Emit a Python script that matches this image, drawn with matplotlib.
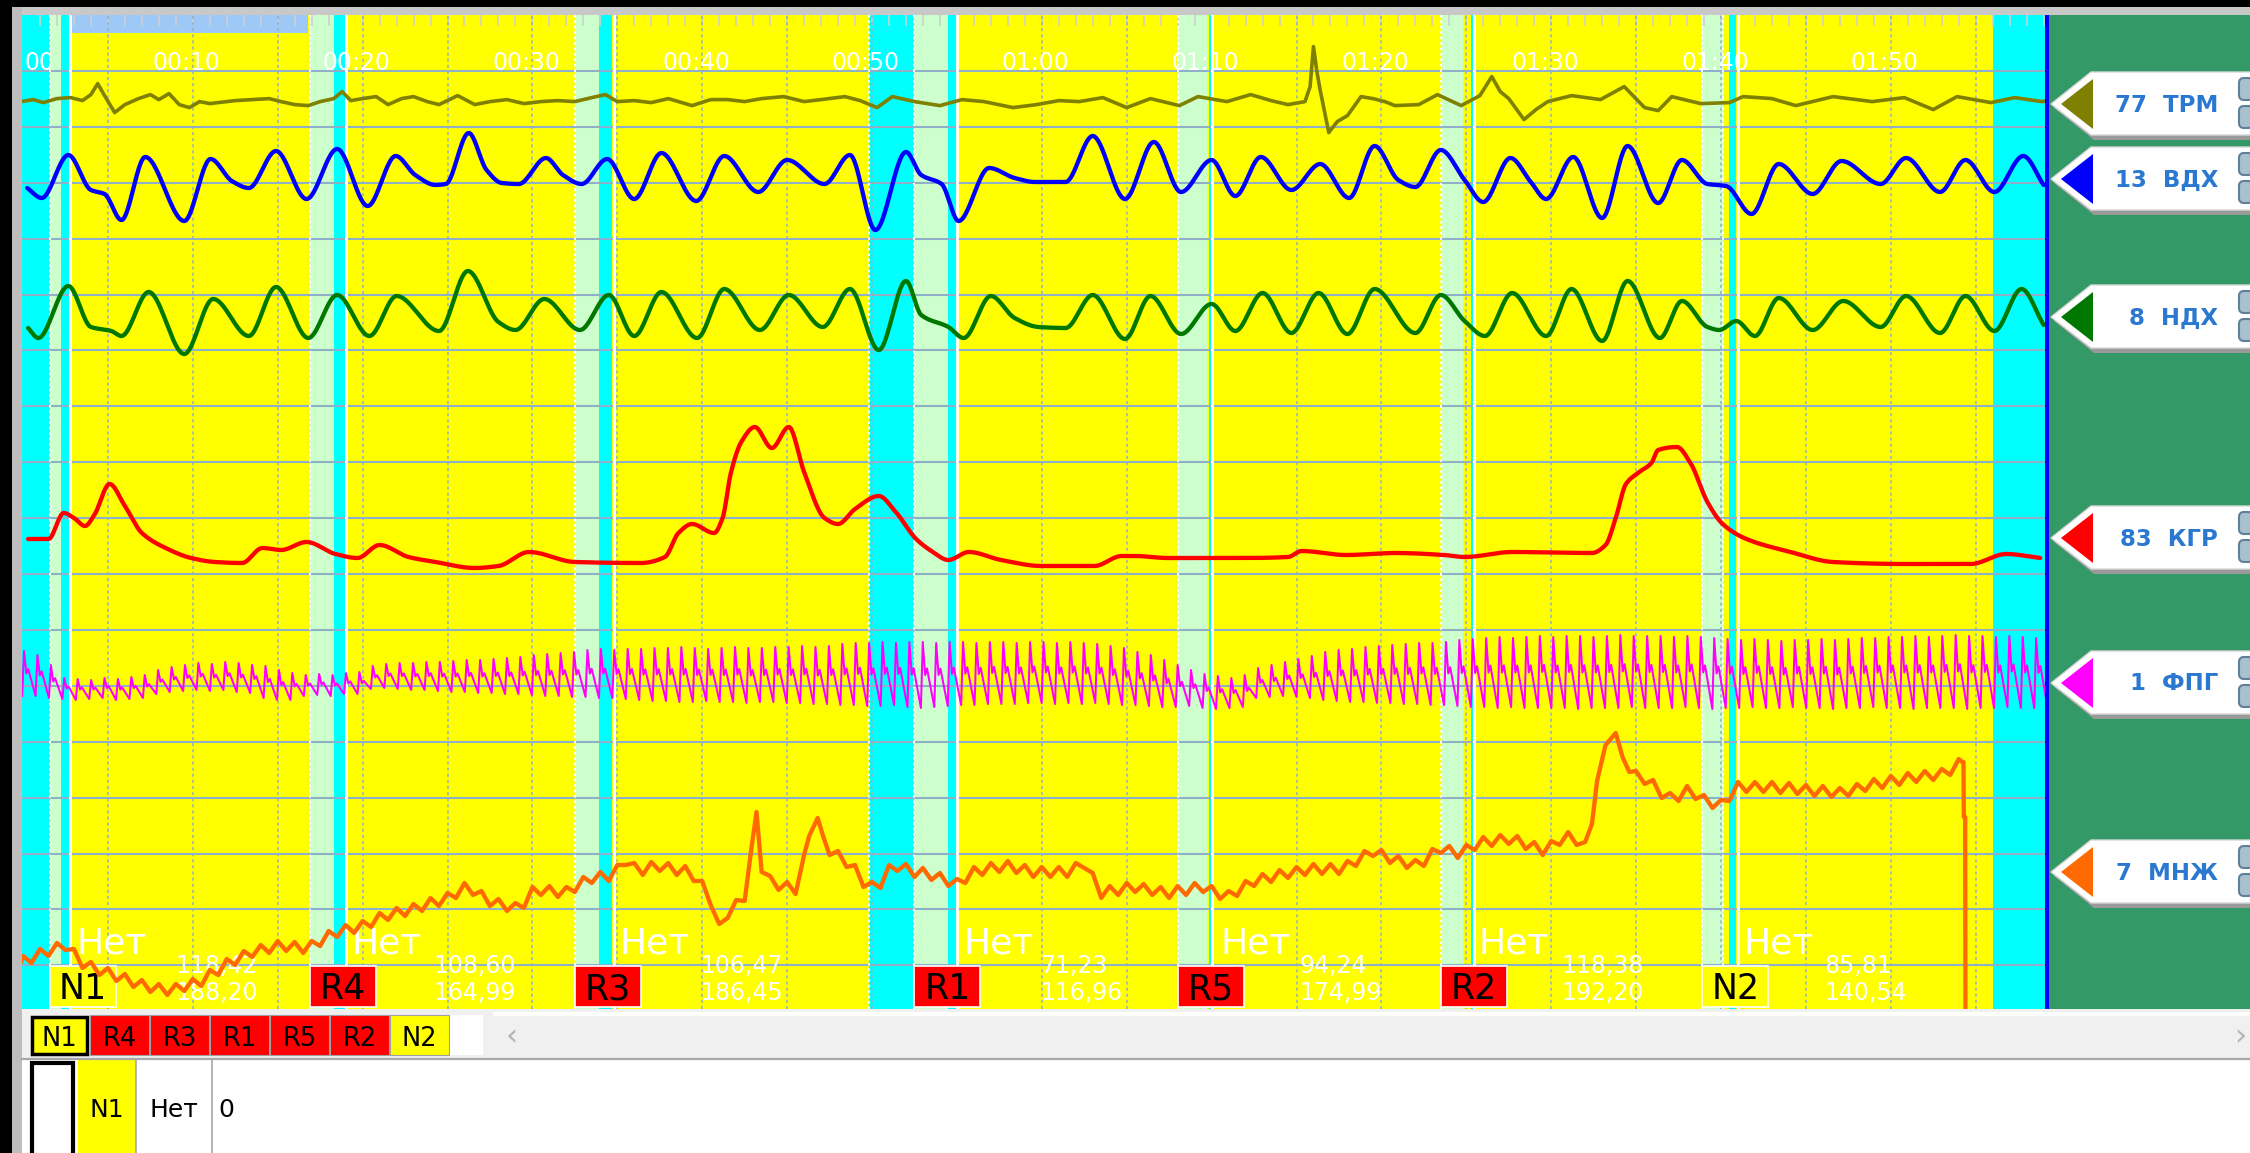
import numpy as np
import matplotlib
matplotlib.use("Agg")
import matplotlib.pyplot as plt
from matplotlib.patches import Rectangle, Polygon, FancyBboxPatch

plt.rcParams['font.family'] = ['DejaVu Sans']

# ======================= DATA =======================
tick_times = [10, 20, 30, 40, 50, 60, 70, 80, 90, 100, 110]
tick_labels = ['00:10', '00:20', '00:30', '00:40', '00:50', '01:00',
               '01:10', '01:20', '01:30', '01:40', '01:50']

q_names = ['N1', 'R4', 'R3', 'R1', 'R5', 'R2', 'N2']
q_onset = [1.57, 16.9, 32.5, 52.5, 68.0, 83.5, 98.9]
q_answer = ['Нет', 'Нет', 'Нет', 'Нет', 'Нет', 'Нет', 'Нет']
q_answer_t = [3.15, 19.36, 35.13, 55.36, 70.55, 85.69, 101.35]
q_val1 = ['118,42', '108,60', '106,47', '71,23', '94,24', '118,38', '85,81']
q_val2 = ['188,20', '164,99', '186,45', '116,96', '174,99', '192,20', '140,54']
q_val_t = [8.95, 24.15, 39.9, 59.9, 75.2, 90.6, 106.1]

question_spans = [(1.57, 2.22), (16.9, 18.3), (32.5, 33.95), (52.5, 54.45),
                  (68.0, 69.8), (83.5, 84.8), (98.9, 100.1)]
answer_spans = [(2.22, 2.72), (18.3, 19.0), (33.95, 34.7), (54.45, 54.95),
                (69.85, 69.95), (85.3, 85.4), (100.45, 100.9)]
answer_end = [2.77, 19.05, 34.8, 55.0, 70.0, 85.45, 101.0]
pause_spans = [(-0.5, 1.57), (49.8, 52.5), (116.0, 120.0)]
select_span = (2.83, 16.8)
end_marker_t = 119.2

ch_names = ['ТРМ', 'ВДХ', 'НДХ', 'КГР', 'ФПГ', 'МНЖ']
ch_nums = ['77', '13', '8', '83', '1', '7']
ch_colors = ['#808000', '#0000ff', '#007800', '#ff0000', '#ff00ff', '#ff6a00']

trm_t = [-0.1, 0.6, 1.2, 2.0, 2.8, 3.5, 4.0, 4.4, 4.8, 5.4,
         6.0, 6.8, 7.5, 8.0, 8.6, 9.2, 9.8, 10.4, 11.0, 11.5,
         12.5, 13.5, 14.5, 15.2, 16.0, 16.8, 17.5, 18.3, 18.8, 19.3,
         20.0, 20.8, 21.5, 22.3, 23.0, 23.8, 24.5, 25.6, 26.6, 27.5,
         28.5, 29.5, 30.5, 31.5, 32.5, 33.5, 34.3, 35.0, 36.0, 37.0,
         38.0, 39.4, 40.5, 41.5, 42.5, 43.5, 44.8, 46.0, 47.0, 48.4,
         49.3, 50.3, 51.2, 52.5, 54.0, 55.3, 56.6, 58.3, 59.7, 61.0,
         62.2, 63.6, 65.0, 66.4, 68.1, 69.2, 70.9, 72.3, 73.5, 74.5,
         75.5, 75.8, 76.0, 76.2, 76.4, 76.9, 77.4, 78.0, 78.8, 79.5,
         80.2, 80.8, 82.2, 83.3, 84.7, 85.8, 86.5, 87.0, 87.5, 88.4,
         89.1, 89.8, 91.2, 92.9, 94.3, 95.5, 96.3, 97.1, 98.8, 100.5,
         101.3, 103.0, 104.4, 106.6, 108.9, 110.8, 112.5, 113.9, 115.9, 117.3,
         118.9, 119.3]
trm_v = [0, 2, -1, 3, 4, 1, 7, 18, 6, -11,
         -3, 3, 7, 2, 8, -3, -6, 0, -2, -1,
         1, 2, 3, 0, -3, -4, 0, 3, 10, 1,
         3, 5, -3, 3, 5, 0, -3, 6, -3, 0,
         2, -2, 0, 1, 0, 4, 7, 0, 1, -1,
         3, -4, 2, 2, 0, 3, 5, 0, 2, 5,
         1, -6, 5, 0, -4, 2, 0, -6, -3, 1,
         0, 4, -6, 3, -4, 5, 0, 7, 1, -3,
         0, 15, 55, 30, 11, -31, -20, -14, 5, 3,
         0, -4, -3, 7, -4, 6, 25, 10, 3, -18,
         -8, 0, 6, 2, 15, -6, -9, 5, -2, -1,
         5, 3, -4, 5, 0, 4, -8, 5, -1, 4,
         0, 1]

vdh_t = [0.25, 1.1, 2.67, 4.0, 4.8, 5.8, 7.2, 9.5, 11.05, 12.3,
         13.3, 14.9, 16.7, 18.5, 20.3, 21.95, 23.1, 24.3, 24.9, 26.25,
         27.3, 28.2, 29.2, 30.8, 31.8, 32.9, 34.4, 36.0, 37.6, 39.65,
         41.3, 43.3, 45.0, 47.2, 48.7, 50.2, 52.0, 52.9, 54.1, 55.1,
         56.9, 58.4, 59.6, 61.4, 63.0, 64.9, 66.6, 68.2, 70.0, 71.4,
         72.9, 74.7, 76.4, 78.1, 79.6, 81.0, 82.0, 83.5, 84.9, 86.0,
         87.6, 88.8, 89.7, 91.3, 93.0, 94.5, 96.3, 97.7, 99.2, 100.3,
         101.8, 103.4, 105.4, 107.1, 109.4, 110.9, 112.9, 114.4, 116.1, 117.8,
         119.0]
vdh_v = [-8, -18, 25, -10, -14, -40, 23, -41, 21, -1,
         -8, 29, -19, 31, -26, 24, 5, -5, -4, 47,
         10, -3, -4, 22, 5, -4, 21, -19, 27, -21,
         24, -12, 20, -4, 25, -50, 28, 5, -4, -41,
         12, 2, -2, -2, 44, -19, 38, -12, 20, -16,
         23, -10, 16, -18, 34, 0, -7, 30, 0, -22,
         22, -2, -19, 23, -38, 34, -23, 20, -4, -6,
         -34, 16, -14, 19, -4, 22, -12, 20, -12, 24,
         -5]

ndh_t = [0.3, 0.9, 2.67, 4.0, 5.2, 5.8, 7.4, 9.5, 11.2, 13.3,
         14.9, 16.8, 18.5, 20.4, 22.0, 24.5, 26.2, 28.0, 29.0, 30.7,
         32.8, 34.5, 36.0, 37.6, 39.7, 41.3, 43.4, 45.1, 47.1, 48.7,
         50.4, 52.0, 52.9, 54.5, 55.4, 57.0, 58.4, 59.8, 61.4, 63.0,
         64.9, 66.4, 68.2, 70.0, 71.4, 73.0, 74.7, 76.3, 78.0, 79.6,
         82.0, 83.5, 84.9, 86.1, 87.7, 89.7, 91.2, 93.0, 94.5, 96.4,
         97.7, 99.2, 99.9, 100.9, 102.0, 103.4, 105.4, 107.2, 109.4, 110.9,
         112.9, 114.4, 116.1, 117.7, 119.0]
ndh_v = [-8, -18, 34, -7, -11, -16, 28, -34, 21, -16,
         33, -18, 25, -16, 24, -11, 49, -2, -10, 21,
         -10, 25, -16, 28, -18, 31, -10, 25, -7, 31,
         -30, 39, 5, -7, -18, 24, 2, -7, -8, 25,
         -19, 24, -14, 16, -11, 27, -13, 27, -14, 31,
         -13, 25, -1, -16, 27, -16, 31, -21, 39, -18,
         19, -7, -10, -1, -16, 22, -10, 19, -7, 24,
         -13, 24, -11, 31, -5]

kgr_t = [0.3, 1.5, 2.4, 3.0, 3.65, 4.2, 5.1, 6.0, 7.0, 8.4,
         9.9, 11.3, 12.9, 14.1, 15.2, 16.7, 18.4, 19.7, 21.0, 22.7,
         24.3, 26.6, 28.0, 29.8, 32.5, 36.4, 37.8, 38.6, 39.4, 40.7,
         41.2, 41.7, 42.3, 43.1, 44.1, 45.1, 46.0, 47.2, 48.0, 49.0,
         50.4, 51.4, 52.6, 53.5, 54.5, 55.7, 57.6, 60.0, 63.1, 64.7,
         65.5, 67.4, 72.0, 74.5, 75.3, 77.9, 80.8, 83.7, 84.9, 87.7,
         92.4, 93.2, 93.8, 94.4, 95.1, 95.9, 96.3, 97.4, 98.2, 99.2,
         100.1, 101.5, 104.1, 106.6, 110.9, 114.7, 116.8, 118.8]
kgr_v = [1, 1, 27, 22, 14, 25, 56, 34, 7, -8,
         -18, -22, -23, -8, -10, -2, -14, -18, -5, -17,
         -22, -28, -26, -12, -22, -23, -17, 7, 16, 7,
         22, 68, 98, 113, 92, 113, 68, 22, 16, 31,
         44, 28, 1, -11, -20, -12, -20, -26, -26, -16,
         -16, -18, -18, -17, -11, -15, -13, -15, -17, -12,
         -13, -5, 22, 56, 67, 77, 90, 93, 77, 38,
         16, 1, -12, -22, -24, -24, -14, -18]

ppg_first_beat = -0.05
ppg_beat_period = 0.79
ppg_peak = [29, 25, 15,
            2, 1, 0, 2, 1, 3, 5,
            10, 13, 15, 17, 16, 18, 17, 15,
            14, 10, 7,
            5, 6, 5, 7, 8,
            14, 16, 17, 17, 18,
            18, 19, 20, 20, 21, 22, 23,
            25, 26, 27, 28, 30, 31, 30, 31,
            31, 32, 32, 33, 32, 31, 32, 33, 32, 32, 33, 33, 34, 33, 34,
            36, 37, 37, 38, 37, 38, 38, 37, 38, 38, 37, 38, 38,
            37, 38, 38, 37, 38, 37, 36,
            34, 32, 28, 25, 20, 15,
            10, 6, 4, 2, 5,
            12, 15, 18, 21, 24,
            28, 30, 31, 33, 34, 35, 36, 37, 37, 38,
            40, 41, 42, 43, 42, 43, 44, 43, 44, 44, 43, 44, 45, 44, 44,
            44, 43, 44, 43, 42, 41, 40, 41, 40, 39, 40, 40, 41, 40, 41,
            42, 42, 43, 43, 44, 43, 44, 45, 44, 44, 43, 44, 43, 42, 42]
ppg_trough = [-16, -16, -18,
              -19, -20, -19, -18, -20, -19, -18,
              -14, -12, -11, -10, -11, -10, -12, -13,
              -18, -20, -20,
              -16, -15, -16, -14, -14,
              -9, -8, -9, -10, -10,
              -11, -12, -12, -13, -13, -14, -14,
              -15, -16, -16, -17, -17, -18, -18, -19,
              -20, -21, -21, -22, -22, -21, -22, -22, -23, -22, -22, -23, -23, -24, -24,
              -25, -25, -26, -26, -25, -27, -28, -27, -26, -25, -25, -24, -24,
              -24, -23, -23, -24, -23, -24, -23,
              -24, -25, -25, -26, -27, -27,
              -26, -28, -29, -28, -27,
              -18, -17, -16, -17, -18,
              -20, -21, -22, -22, -23, -23, -24, -24, -25, -25,
              -26, -27, -27, -28, -27, -28, -28, -28, -28, -29, -28, -28, -28, -27, -28,
              -28, -28, -27, -28, -29, -28, -28, -27, -28, -28, -27, -28, -28, -29, -28,
              -28, -27, -28, -28, -29, -28, -28, -28, -29, -28, -28, -27, -28, -28, -28]

mnz = [(-0.1, -61),
       (0.0, -56), (0.5, -63), (1.0, -49), (1.5, -56), (2.0, -43), (2.5, -50), (3.0, -49), (3.5, -68),
       (4.0, -62), (4.5, -75), (5.0, -68), (5.5, -81), (6.0, -74), (6.5, -87), (7.0, -80), (7.5, -92),
       (8.0, -84), (8.5, -95), (9.0, -84), (9.5, -91),
       (10.0, -79), (10.5, -86), (11.0, -70), (11.5, -75), (12.0, -59), (12.5, -65), (13.0, -51),
       (13.5, -57), (14.0, -45), (14.5, -53), (15.0, -41), (15.5, -51), (16.0, -42), (16.5, -53),
       (17.0, -41), (17.5, -46), (18.0, -31), (18.5, -37), (19.0, -25), (19.5, -33),
       (20.0, -21), (20.5, -27), (21.0, -13), (21.5, -20), (22.0, -8), (22.5, -16), (23.0, -4),
       (23.5, -11), (24.0, 2), (24.5, -6), (25.0, 7), (25.5, 2), (26.0, 17), (26.5, 5), (27.0, 9),
       (27.5, -6), (28.0, 1), (28.5, -11), (29.0, -3), (29.5, -8),
       (30.0, 13), (30.5, 5), (31.0, 14), (31.5, 3), (32.0, 13), (32.5, 8), (33.0, 23), (33.5, 17),
       (34.0, 28), (34.5, 19), (35.0, 35), (35.5, 35), (36.0, 37), (36.5, 25), (37.0, 38), (37.5, 29),
       (38.0, 37), (38.5, 25), (39.0, 34), (39.5, 19),
       (40.0, 19), (40.5, -5), (41.0, -24), (41.5, -18), (42.0, 0), (42.5, -1), (42.9, 52), (43.2, 88),
       (43.5, 28), (44.0, 24), (44.5, 10), (45.0, 18), (45.5, 6), (46.0, 45), (46.3, 64), (46.8, 82),
       (47.1, 65), (47.5, 45), (48.0, 49), (48.5, 33), (49.0, 35), (49.5, 13),
       (50.0, 18), (50.5, 12), (51.0, 35), (51.5, 29), (52.0, 36), (52.5, 23), (53.0, 32), (53.5, 20),
       (54.0, 27), (54.5, 14), (55.0, 21), (55.5, 17), (56.0, 33), (56.5, 25), (57.0, 37), (57.5, 28),
       (58.0, 39), (58.5, 27), (59.0, 35), (59.5, 23),
       (60.0, 33), (60.5, 23), (61.0, 33), (61.5, 23), (62.0, 37), (62.5, 32), (63.0, 27), (63.5, 2),
       (64.0, 14), (64.5, 5), (65.0, 17), (65.5, 8), (66.0, 16), (66.5, 5), (67.0, 13), (67.5, 2),
       (68.0, 14), (68.5, 5), (69.0, 17), (69.5, 8),
       (70.0, 14), (70.5, 1), (71.0, 9), (71.5, 4), (72.0, 19), (72.5, 14), (73.0, 26), (73.5, 18),
       (74.0, 30), (74.5, 22), (75.0, 33), (75.5, 25), (76.0, 36), (76.5, 26), (77.0, 36), (77.5, 26),
       (78.0, 39), (78.5, 34), (79.0, 49), (79.5, 44),
       (80.0, 50), (80.5, 37), (81.0, 44), (81.5, 32), (82.0, 40), (82.5, 34), (83.0, 51), (83.5, 47),
       (84.0, 54), (84.5, 42), (85.0, 55), (85.5, 50), (86.0, 63), (86.5, 54), (87.0, 65), (87.5, 56),
       (88.0, 64), (88.5, 51), (89.0, 58), (89.5, 45),
       (90.0, 59), (90.5, 55), (91.0, 68), (91.5, 55), (92.0, 58), (92.4, 76), (92.7, 119), (93.2, 155),
       (93.8, 167), (94.2, 143), (94.6, 128), (95.0, 129), (95.5, 116), (96.0, 120), (96.5, 102),
       (97.0, 107), (97.5, 99), (98.0, 114), (98.5, 101), (99.0, 105), (99.5, 92),
       (100.0, 100), (100.5, 99), (101.0, 118), (101.5, 108), (102.0, 118), (102.5, 108), (103.0, 118),
       (103.5, 107), (104.0, 117), (104.5, 106), (105.0, 115), (105.5, 104), (106.0, 114), (106.5, 103),
       (107.0, 112), (107.5, 104), (108.0, 116), (108.5, 109), (109.0, 121), (109.5, 112), (110.0, 124),
       (110.5, 115), (111.0, 127), (111.5, 118), (112.0, 129), (112.5, 120), (113.0, 131), (113.5, 125),
       (114.0, 141), (114.2, 138), (114.28, 138), (114.3, 83), (114.38, 83), (114.4, -140)]

tab_names = ['N1', 'R4', 'R3', 'R1', 'R5', 'R2', 'N2']
row_cells = ['N1', 'Нет', '0']

# ======================= LAYOUT =======================
W, H = 2250, 1153
PX_PER_S = 16.98
T0_PX = 23.0
PL, PR, PT, PB = 21.5, 2049.0, 15.0, 1009.0
GRID_STEP = 55.9
BASE = {'trm': 101.6, 'vdh': 180.0, 'ndh': 320.0, 'kgr': 540.0, 'ppg': 680.0, 'mnz': 900.0}
LABEL_Y = [104, 179, 317, 538, 683, 872]


def px2t(x):
    return (x - T0_PX) / PX_PER_S


def pchip(x, y, xn):
    x = np.asarray(x, float)
    y = np.asarray(y, float)
    h = np.diff(x)
    d = np.diff(y) / h
    m = np.zeros_like(y)
    for k in range(1, len(x) - 1):
        if d[k - 1] * d[k] > 0:
            w1 = 2 * h[k] + h[k - 1]
            w2 = h[k] + 2 * h[k - 1]
            m[k] = (w1 + w2) / (w1 / d[k - 1] + w2 / d[k])
    m[0] = d[0]
    m[-1] = d[-1]
    idx = np.clip(np.searchsorted(x, xn) - 1, 0, len(x) - 2)
    hk = h[idx]
    s = (xn - x[idx]) / hk
    h00 = 2 * s ** 3 - 3 * s ** 2 + 1
    h10 = s ** 3 - 2 * s ** 2 + s
    h01 = -2 * s ** 3 + 3 * s ** 2
    h11 = s ** 3 - s ** 2
    return h00 * y[idx] + h10 * hk * m[idx] + h01 * y[idx + 1] + h11 * hk * m[idx + 1]


fig = plt.figure(figsize=(W / 100, H / 100), dpi=100)
fig.patch.set_facecolor('white')

# ---------- chrome (pixel coordinates) ----------
bg = fig.add_axes([0, 0, 1, 1], zorder=0)
bg.set_xlim(0, W)
bg.set_ylim(H, 0)
bg.axis('off')

bg.add_patch(Rectangle((0, 0), W, 7, fc='black', ec='none'))
bg.add_patch(Rectangle((12, 7), W - 12, 8, fc='#c8c8c8', ec='none'))
bg.add_patch(Rectangle((0, 0), 12, H, fc='black', ec='none'))
bg.add_patch(Rectangle((12, 7), 9.5, H, fc='#bdbdbd', ec='none'))
bg.add_patch(Rectangle((PR, PT), W - PR, PB - PT, fc='#339966', ec='none'))

# channel labels on the right panel
for name, num, col, yc in zip(ch_names, ch_nums, ch_colors, LABEL_Y):
    bg.add_patch(Polygon([(2054, yc + 4), (2094, yc - 27), (2252, yc - 27), (2252, yc + 36), (2094, yc + 36)],
                         closed=True, fc='#9a9a9a', ec='none'))
    bg.add_patch(Polygon([(2051, yc), (2091, yc - 32), (2252, yc - 32), (2252, yc + 31), (2091, yc + 31)],
                         closed=True, fc='white', ec='#d8d8d8', lw=1))
    bg.add_patch(Polygon([(2061, yc), (2093, yc - 25), (2093, yc + 25)], closed=True, fc=col, ec='none'))
    bg.text(2218, yc + 1, num + '  ' + name, color='#2a78d0', fontsize=16.5, fontweight='bold',
            ha='right', va='center')
    for by in (yc - 26, yc + 2):
        bg.add_patch(FancyBboxPatch((2239, by), 14, 22, boxstyle='round,pad=0,rounding_size=5',
                                    fc='#a9c0cf', ec='#5f8098', lw=1.5))

# bottom scrollbar strip with tabs
bg.add_patch(Rectangle((PL, PB), W - PL, 50, fc='#f0f0f0', ec='none'))
bg.plot([493, W], [1014, 1014], color='white', lw=3, solid_capstyle='butt')
bg.plot([PL, W], [1058.5, 1058.5], color='#a8a8a8', lw=1.6)
tab_w = 58.5
for i, name in enumerate(tab_names):
    x0 = 30 + i * 60.0
    fc = '#ffff00' if name.startswith('N') else '#ff0000'
    if i == 0:
        bg.add_patch(Rectangle((x0 + 1.5, 1016.5), tab_w - 3, 37, fc=fc, ec='black', lw=2.5))
    else:
        bg.add_patch(Rectangle((x0, 1015), tab_w, 40, fc=fc, ec='#a0a0a0', lw=0.8))
    bg.text(x0 + tab_w / 2, 1046, name, fontsize=18.5, ha='center', va='baseline', color='black')
bg.add_patch(Rectangle((450, 1015), 33, 40, fc='white', ec='none'))
bg.text(512, 1037, '‹', fontsize=22, color='#b4b4b4', ha='center', va='center')
bg.text(2240, 1037, '›', fontsize=22, color='#b4b4b4', ha='center', va='center')

# table row
bg.add_patch(Rectangle((31.5, 1063), 41, 100, fc='white', ec='black', lw=3))
bg.add_patch(Rectangle((77.5, 1060), 58.5, 100, fc='#ffff00', ec='none'))
for xl in (136, 212):
    bg.plot([xl, xl], [1060, H], color='#a8a8a8', lw=1.2)
bg.text(107, 1117, row_cells[0], fontsize=18, ha='center', va='baseline', color='black')
bg.text(174, 1117, row_cells[1], fontsize=18, ha='center', va='baseline', color='black')
bg.text(218, 1117, row_cells[2], fontsize=18, ha='left', va='baseline', color='black')

# ---------- main chart ----------
ax = fig.add_axes([PL / W, 1 - PB / H, (PR - PL) / W, (PB - PT) / H], zorder=1)
ax.set_xlim(px2t(PL), px2t(PR))
ax.set_ylim(PB, PT)
ax.set_facecolor('#ffff00')
for s in ax.spines.values():
    s.set_visible(False)
ax.set_xticks([])
ax.set_yticks([])

for a, b in pause_spans:
    ax.axvspan(a, b, color='#00ffff', lw=0, zorder=0.5)
for a, b in question_spans:
    ax.axvspan(a, b, color='#ccffcc', lw=0, zorder=0.5)
for a, b in answer_spans:
    ax.axvspan(a, b, color='#00ffff', lw=0, zorder=0.5)

# selection bar and ruler ticks at the top
ax.add_patch(Rectangle((select_span[0], PT), select_span[1] - select_span[0], 18,
                       fc='#9ec8f5', ec='none', zorder=0.8))
for s in range(1, 120):
    ax.plot([s, s], [PT, PT + 10], color='#cfcfcf', lw=1.2, zorder=0.9)

# grid
for k in range(1, 18):
    ax.axhline(PT + GRID_STEP * k, color='#8fb0c8', lw=1.5, zorder=1)
for s in range(5, 120, 5):
    ax.axvline(s, color='#8fb0c8', lw=1.1, ls=(0, (2, 2)), zorder=1)

# white boundary lines
for a, b in question_spans:
    ax.axvline(a, color='white', lw=1.3, ls=(0, (1.5, 1.5)), zorder=1.2)
ax.axvline(pause_spans[1][0], color='white', lw=1.3, ls=(0, (1.5, 1.5)), zorder=1.2)
ax.axvline(question_spans[6][1], color='white', lw=1.3, ls=(0, (1.5, 1.5)), zorder=1.2)
for t in answer_end:
    ax.axvline(t, color='white', lw=2.0, zorder=1.2)

# time labels
for t, lab in zip(tick_times, tick_labels):
    ax.text(t - 0.35, 70, lab, color='white', fontsize=17, ha='center', va='baseline', zorder=2)
lbl0 = ax.text(0.06, 70, '00:00', color='white', fontsize=17, ha='left', va='baseline',
               zorder=2, clip_on=True)
clip = Rectangle((px2t(PL), PT), q_onset[0] - px2t(PL), 100, transform=ax.transData)
lbl0.set_clip_path(clip)

# question markers and answers
box_w = 66 / PX_PER_S
for name, t0, ans, ta, v1, v2, tv in zip(q_names, q_onset, q_answer, q_answer_t,
                                         q_val1, q_val2, q_val_t):
    fc = '#ffff00' if name.startswith('N') else '#ff0000'
    ax.add_patch(Rectangle((t0, 966), box_w, 41, fc=fc, ec='white', lw=1.2, zorder=2))
    ax.text(t0 + box_w / 2, 999, name, fontsize=25, color='black', ha='center', va='baseline', zorder=2.1)
    ax.text(ta, 953, ans, fontsize=26, color='white', ha='left', va='baseline', zorder=2.1)
    ax.text(tv, 973, v1, fontsize=17, color='white', ha='left', va='baseline', zorder=2.1)
    ax.text(tv, 1000, v2, fontsize=17, color='white', ha='left', va='baseline', zorder=2.1)

# ---------- traces ----------
ax.plot(trm_t, BASE['trm'] - np.asarray(trm_v, float), color=ch_colors[0], lw=2.6, zorder=3)

for tt, vv, key, col in ((vdh_t, vdh_v, 'vdh', ch_colors[1]),
                         (ndh_t, ndh_v, 'ndh', ch_colors[2]),
                         (kgr_t, kgr_v, 'kgr', ch_colors[3])):
    n = min(len(tt), len(vv))
    xs = np.linspace(tt[0], tt[n - 1], 3000)
    ax.plot(xs, BASE[key] - pchip(tt[:n], vv[:n], xs), color=col, lw=3.1, zorder=3,
            solid_capstyle='round')

# pulse
nb = min(len(ppg_peak), len(ppg_trough))
pt_, pv_ = [], []
for i in range(nb):
    tb = ppg_first_beat + ppg_beat_period * i
    pk, tr = ppg_peak[i], ppg_trough[i]
    amp = pk - tr
    pt_ += [tb, tb + 0.11, tb + 0.25, tb + 0.36]
    pv_ += [tr, pk, pk - 0.5 * amp, pk - 0.4 * amp]
pt_.append(ppg_first_beat + ppg_beat_period * nb)
pv_.append(ppg_trough[nb - 1])
ax.plot(pt_, BASE['ppg'] - np.asarray(pv_, float), color=ch_colors[4], lw=1.45, zorder=3)

mt = [p[0] for p in mnz]
mv = [p[1] for p in mnz]
ax.plot(mt, BASE['mnz'] - np.asarray(mv, float), color=ch_colors[5], lw=3.1, zorder=3)

ax.axvline(end_marker_t, color='#0000ff', lw=2.9, zorder=3.5)

fig.savefig('out.png', dpi=100)
